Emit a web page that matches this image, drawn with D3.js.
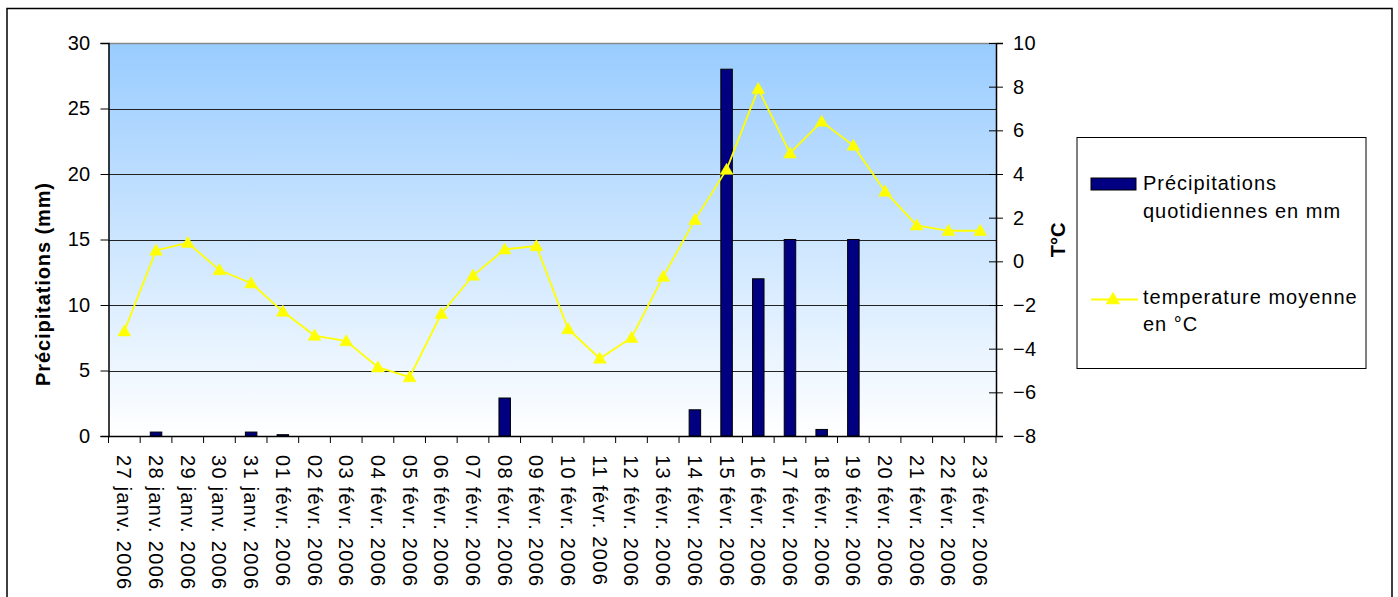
<!DOCTYPE html>
<html><head><meta charset="utf-8">
<script src="https://cdn.jsdelivr.net/npm/d3@7/dist/d3.min.js"></script>
<style>body{margin:0;background:#fff}svg{display:block}text{font-family:Arial,"Liberation Sans",sans-serif}</style>
</head><body><svg id="c" width="1398" height="597"></svg>
<script>
const categories = ["27 janv. 2006","28 janv. 2006","29 janv. 2006","30 janv. 2006","31 janv. 2006","01 févr. 2006","02 févr. 2006","03 févr. 2006","04 févr. 2006","05 févr. 2006","06 févr. 2006","07 févr. 2006","08 févr. 2006","09 févr. 2006","10 févr. 2006","11 févr. 2006","12 févr. 2006","13 févr. 2006","14 févr. 2006","15 févr. 2006","16 févr. 2006","17 févr. 2006","18 févr. 2006","19 févr. 2006","20 févr. 2006","21 févr. 2006","22 févr. 2006","23 févr. 2006"];
const precipitation = [0,0.3,0,0,0.3,0.1,0,0,0,0,0,0,2.9,0,0,0,0,0,2,28,12,15,0.5,15,0,0,0,0];
const temperature = [-3.2,0.5,0.85,-0.4,-1.0,-2.3,-3.4,-3.65,-4.85,-5.3,-2.4,-0.65,0.55,0.7,-3.1,-4.45,-3.5,-0.7,1.9,4.2,7.9,4.95,6.4,5.3,3.2,1.65,1.4,1.4];
const leftTicks = [0,5,10,15,20,25,30];
const rightTicks = [-8,-6,-4,-2,0,2,4,6,8,10];
const legendLabels = [["Précipitations","quotidiennes en mm"],["temperature moyenne","en °C"]];

const svg = d3.select("#c");
const L = 108.5, R = 996, T = 43, B = 436;

// outer frame
svg.append("rect").attr("x",7).attr("y",8.5).attr("width",1385).attr("height",600)
  .attr("fill","#fff").attr("stroke","#000").attr("stroke-width",1.5);

const defs = svg.append("defs");
const g = defs.append("linearGradient").attr("id","bg").attr("x1",0).attr("y1",0).attr("x2",0).attr("y2",1);
g.append("stop").attr("offset","0%").attr("stop-color","#99CCFF");
g.append("stop").attr("offset","100%").attr("stop-color","#FFFFFF");

const x = d3.scaleBand().domain(categories).range([L,R]).paddingInner(0).paddingOuter(0);
const yL = d3.scaleLinear().domain([0,30]).range([B,T]);
const yR = d3.scaleLinear().domain([-8,10]).range([B,T]);

svg.append("rect").attr("x",L).attr("y",T).attr("width",R-L).attr("height",B-T).attr("fill","url(#bg)");

// gridlines
svg.append("g").selectAll("line").data(leftTicks.filter(d=>d>0&&d<30)).join("line")
  .attr("x1",L).attr("x2",R).attr("y1",d=>Math.round(yL(d))+0.5).attr("y2",d=>Math.round(yL(d))+0.5)
  .attr("stroke","#222").attr("stroke-width",1);
// top border
svg.append("line").attr("x1",L).attr("x2",R).attr("y1",T+0.5).attr("y2",T+0.5).attr("stroke","#888").attr("stroke-width",1.5);

// bars
const bw = 11.5;
svg.append("g").selectAll("rect").data(precipitation.map((v,i)=>({v,c:categories[i]}))).join("rect")
  .filter(d=>d.v>0)
  .attr("x",d=>x(d.c)+x.bandwidth()/2-bw/2).attr("width",bw)
  .attr("y",d=>yL(d.v)).attr("height",d=>B-yL(d.v))
  .attr("fill","#000080").attr("stroke","#000").attr("stroke-width",1);

// line
const line = d3.line().x((d,i)=>x(categories[i])+x.bandwidth()/2).y(d=>yR(d));
svg.append("path").datum(temperature).attr("d",line).attr("fill","none").attr("stroke","#FFFF00").attr("stroke-width",1.8);
const tri = d3.symbol().type(d3.symbolTriangle).size(72);
svg.append("g").selectAll("path").data(temperature).join("path")
  .attr("d",tri).attr("transform",(d,i)=>`translate(${x(categories[i])+x.bandwidth()/2},${yR(d)+1})`)
  .attr("fill","#FFFF00").attr("stroke","#FFFF00").attr("stroke-width",0.5);

// axes
const axL = d3.axisLeft(yL).tickValues(leftTicks).tickSize(8).tickPadding(10);
const gl = svg.append("g").attr("transform",`translate(${L},0)`).call(axL);
gl.select(".domain").attr("stroke","#000").attr("stroke-width",1.5);
gl.selectAll("text").attr("font-size",20).attr("fill","#000").attr("letter-spacing",0.3);

const axR = d3.axisRight(yR).tickValues(rightTicks).tickSize(7).tickPadding(10);
const gr = svg.append("g").attr("transform",`translate(${R},0)`).call(axR);
gr.select(".domain").attr("stroke","#000").attr("stroke-width",1.5);
gr.selectAll(".tick line").attr("x1",-7);
gr.selectAll("text").attr("font-size",20).attr("fill","#000").attr("letter-spacing",0.3);

const axB = d3.axisBottom(x).tickSize(0).tickFormat("");
const gb = svg.append("g").attr("transform",`translate(0,${B})`).call(axB);
gb.select(".domain").attr("stroke","#000").attr("stroke-width",1.5);
// boundary ticks
svg.append("g").selectAll("line").data(categories.concat(["__end"])).join("line")
  .attr("x1",(d,i)=>i<categories.length?x(d):R).attr("x2",(d,i)=>i<categories.length?x(d):R)
  .attr("y1",B).attr("y2",B+7).attr("stroke","#000").attr("stroke-width",1);
// category labels rotated
svg.append("g").selectAll("text").data(categories).join("text")
  .attr("transform",d=>`translate(${x(d)+x.bandwidth()/2-7},455) rotate(90)`)
  .attr("font-size",20).attr("letter-spacing",1.3).attr("text-anchor","start")
  .text(d=>d);

// axis titles
svg.append("text").attr("transform",`translate(50,284) rotate(-90)`).attr("text-anchor","middle")
  .attr("font-size",20).attr("font-weight","bold").attr("letter-spacing",0.9).text("Précipitations (mm)");
svg.append("text").attr("transform",`translate(1065,240) rotate(-90)`).attr("text-anchor","middle")
  .attr("font-size",20).attr("font-weight","bold").text("T°C");

// legend
svg.append("rect").attr("x",1077).attr("y",137.5).attr("width",289).attr("height",231)
  .attr("fill","#fff").attr("stroke","#000").attr("stroke-width",1);
svg.append("rect").attr("x",1091).attr("y",178).attr("width",45).attr("height",12)
  .attr("fill","#000080").attr("stroke","#000").attr("stroke-width",1);
svg.append("line").attr("x1",1091).attr("x2",1138).attr("y1",299.5).attr("y2",299.5).attr("stroke","#FFFF00").attr("stroke-width",1.8);
svg.append("path").attr("d",tri).attr("transform","translate(1113,300)").attr("fill","#FFFF00").attr("stroke","#FFFF00");
const lg = svg.append("g").attr("font-size",20).attr("letter-spacing",1.0);
const rowsY = [[190,218],[304,331]];
legendLabels.forEach((lines,k)=>{
  lines.forEach((t,j)=>lg.append("text").attr("x",1143).attr("y",rowsY[k][j]).text(t));
});
</script></body></html>
